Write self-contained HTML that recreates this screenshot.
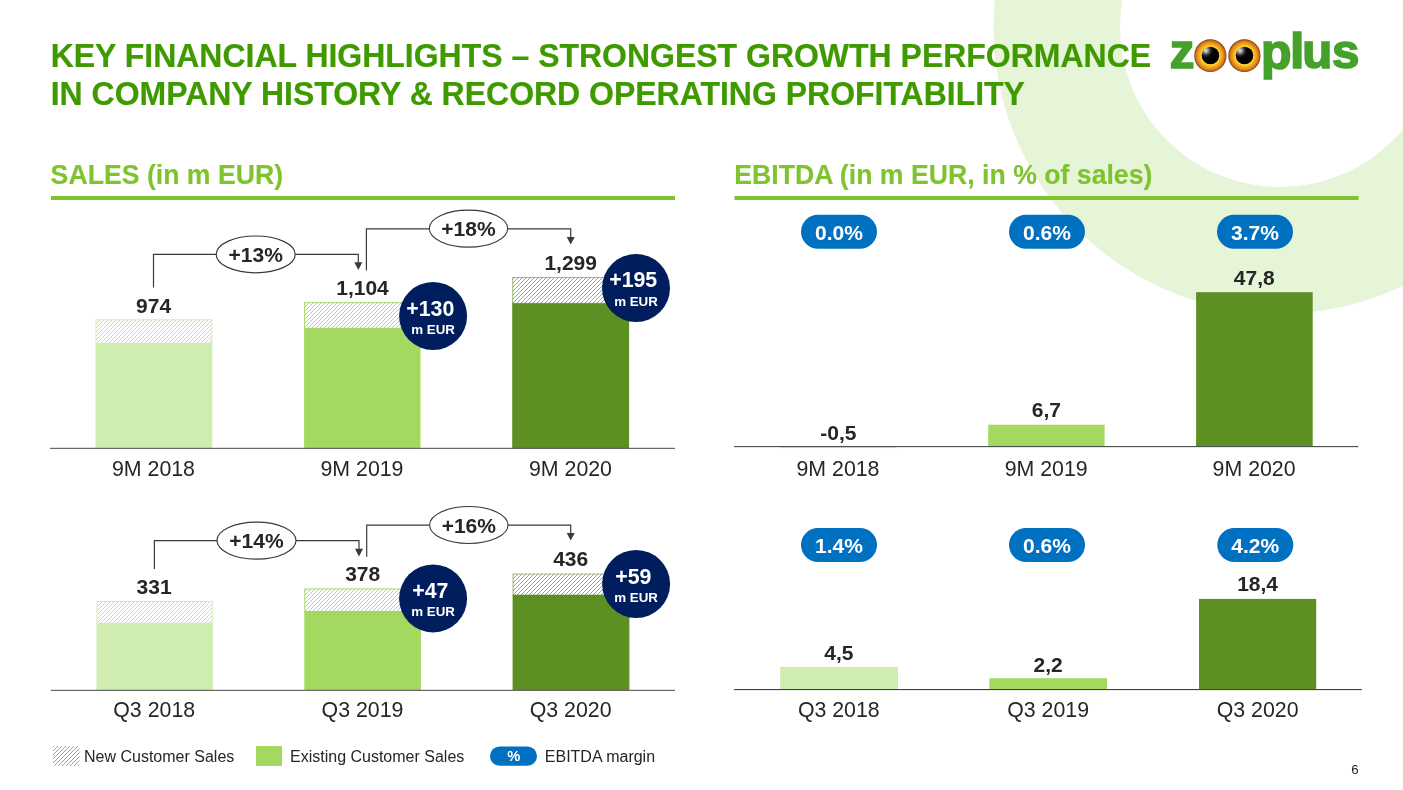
<!DOCTYPE html>
<html lang="en"><head><meta charset="utf-8"><title>Key Financial Highlights</title>
<style>
html,body{margin:0;padding:0;background:#fff;}
body{width:1403px;height:790px;overflow:hidden;position:relative;font-family:"Liberation Sans",Arial,sans-serif;}
svg{position:absolute;left:0;top:0;display:block}
text{font-family:"Liberation Sans",Arial,sans-serif;}
.t{font-weight:bold;font-size:32px;fill:#3f9a00;stroke:#3f9a00;stroke-width:.2px}
.s{font-weight:bold;font-size:26.67px;fill:#7fc42f;stroke:#7fc42f;stroke-width:.15px}
.v{font-weight:bold;font-size:21px;fill:#262626;text-anchor:middle}
.ax{font-size:21.33px;fill:#262626;text-anchor:middle}
.pl{font-weight:bold;font-size:21px;fill:#fff;text-anchor:middle}
.cb{font-weight:bold;font-size:21.33px;fill:#fff;text-anchor:middle}
.cs{font-weight:bold;font-size:13.33px;fill:#fff;text-anchor:middle}
.lg{font-size:16px;fill:#262626}
.ln{fill:none;stroke:#3a3a3a;stroke-width:1.2}
.ar{fill:#3a3a3a}
</style></head><body>
<svg width="1403" height="790" viewBox="0 0 1403 790">
<defs>

<pattern id="h1" width="4" height="4" patternUnits="userSpaceOnUse"><rect width="4" height="4" fill="#fff"/><path d="M-1 5L5 -1M-1 1L1 -1M3 5L5 3" stroke="#bfe694" stroke-width="1.0" stroke-opacity="1"/></pattern>
<pattern id="h2" width="4" height="4" patternUnits="userSpaceOnUse"><rect width="4" height="4" fill="#fff"/><path d="M-1 5L5 -1M-1 1L1 -1M3 5L5 3" stroke="#a3d95f" stroke-width="0.9" stroke-opacity="1"/></pattern>
<pattern id="h3" width="4" height="4" patternUnits="userSpaceOnUse"><rect width="4" height="4" fill="#fff"/><path d="M-1 5L5 -1M-1 1L1 -1M3 5L5 3" stroke="#5e8f22" stroke-width="0.8" stroke-opacity="0.85"/></pattern>
<radialGradient id="eye" cx="50%" cy="50%" r="50%">
<stop offset="0" stop-color="#ffe045"/><stop offset="0.55" stop-color="#ffd83a"/><stop offset="0.64" stop-color="#f9ba25"/><stop offset="0.76" stop-color="#ec9a1c"/><stop offset="0.87" stop-color="#da7e18"/><stop offset="0.94" stop-color="#b05c15"/><stop offset="1" stop-color="#6e3a14"/>
</radialGradient>
<radialGradient id="pup" cx="24%" cy="22%" r="62%">
<stop offset="0" stop-color="#f4f4f4"/><stop offset="0.2" stop-color="#9a9a9a"/><stop offset="0.45" stop-color="#2a2a2a"/><stop offset="0.62" stop-color="#080808"/><stop offset="1" stop-color="#000"/>
</radialGradient>
</defs>

<circle cx="1280" cy="27" r="223.25" fill="none" stroke="#e6f4d7" stroke-width="126.5"/>
<text class="t" transform="translate(50.7 66.9) scale(1 1.04)">KEY FINANCIAL HIGHLIGHTS – STRONGEST GROWTH PERFORMANCE</text>
<text class="t" transform="translate(50.7 105.0) scale(1 1.04)">IN COMPANY HISTORY &amp; RECORD OPERATING PROFITABILITY</text>
<text transform="translate(0 68.0) scale(0.965 0.95)" fill="#45a12b" stroke="#45a12b" stroke-width="1.8" font-weight="bold" font-size="51px" style="vector-effect:non-scaling-stroke"><tspan x="1212.23">z</tspan><tspan x="1238.67" fill="#eea01c" stroke="#eea01c">o</tspan><tspan x="1273.96" fill="#eea01c" stroke="#eea01c">o</tspan><tspan x="1306.62" font-size="51.7px" dy="0.95">p</tspan><tspan x="1336.90" font-size="53.5px" dy="-0.95">l</tspan><tspan x="1349.45">u</tspan><tspan x="1380.32">s</tspan></text>
<ellipse cx="1210.35" cy="55.7" rx="16.1" ry="16.4" fill="url(#eye)"/><circle cx="1210.4499999999998" cy="55.5" r="8.8" fill="url(#pup)"/>
<ellipse cx="1244.4" cy="55.7" rx="16.1" ry="16.4" fill="url(#eye)"/><circle cx="1244.5" cy="55.5" r="8.8" fill="url(#pup)"/>
<text class="s" transform="translate(50.6 184.1) scale(1 1.045)">SALES (in m EUR)</text>
<text class="s" transform="translate(734.2 184.1) scale(1 1.045)">EBITDA (in m EUR, in % of sales)</text>
<rect x="51" y="196" width="624" height="4" fill="#7fc42f"/>
<rect x="734.5" y="196" width="624" height="4" fill="#7fc42f"/>
<rect x="95.5" y="343" width="116.8" height="105.3" fill="#d0edb0"/>
<rect x="96.0" y="319.8" width="115.8" height="23.7" fill="url(#h1)" stroke="#d0edb0" stroke-width="1" stroke-opacity="1"/>
<rect x="304.1" y="327.8" width="116.4" height="120.5" fill="#a3d95f"/>
<rect x="304.6" y="302.7" width="115.4" height="25.6" fill="url(#h2)" stroke="#a3d95f" stroke-width="1" stroke-opacity="1"/>
<rect x="512.2" y="302.8" width="116.9" height="145.5" fill="#5e8f22"/>
<rect x="512.7" y="277.5" width="115.9" height="25.8" fill="url(#h3)" stroke="#5e8f22" stroke-width="1" stroke-opacity="0.6"/>
<rect x="50" y="447.8" width="625" height="1.1" fill="#595959"/>
<text class="v" x="153.6" y="312.6">974</text>
<text class="v" x="362.5" y="295.3">1,104</text>
<text class="v" x="570.7" y="269.6">1,299</text>
<text class="ax" x="153.5" y="476.3">9M 2018</text>
<text class="ax" x="362" y="476.3">9M 2019</text>
<text class="ax" x="570.5" y="476.3">9M 2020</text>
<path class="ln" d="M153.5 287.5V254.4H216"/><path class="ln" d="M295 254.4H358.3V263"/>
<path class="ln" d="M366.4 270.4V228.8H430"/><path class="ln" d="M507 228.8H570.7V238"/>
<path class="ar" d="M354.3 262.2H362.3L358.3 269.9Z"/>
<path class="ar" d="M566.7 236.9H574.7L570.7 244.6Z"/>
<ellipse cx="255.7" cy="254.4" rx="39.5" ry="18.4" fill="#fff" stroke="#3a3a3a" stroke-width="1.2"/>
<ellipse cx="468.5" cy="228.6" rx="39.2" ry="18.5" fill="#fff" stroke="#3a3a3a" stroke-width="1.1"/>
<text class="v" x="255.7" y="262">+13%</text>
<text class="v" x="468.5" y="236.2">+18%</text>
<circle cx="433.1" cy="316" r="34" fill="#001e5e"/>
<text class="cb" x="430.3" y="315.9">+130</text><text class="cs" x="433.1" y="334.2">m EUR</text>
<circle cx="636" cy="288" r="34" fill="#001e5e"/>
<text class="cb" x="633.2" y="287.3">+195</text><text class="cs" x="636" y="306.4">m EUR</text>
<rect x="96.5" y="622.8" width="116.3" height="67.2" fill="#d0edb0"/>
<rect x="97.0" y="601.5" width="115.3" height="21.8" fill="url(#h1)" stroke="#d0edb0" stroke-width="1" stroke-opacity="1"/>
<rect x="304.3" y="611" width="116.6" height="79.0" fill="#a3d95f"/>
<rect x="304.8" y="589.0" width="115.6" height="22.5" fill="url(#h2)" stroke="#a3d95f" stroke-width="1" stroke-opacity="1"/>
<rect x="512.6" y="594.5" width="116.8" height="95.5" fill="#5e8f22"/>
<rect x="513.1" y="574.0" width="115.8" height="21.0" fill="url(#h3)" stroke="#5e8f22" stroke-width="1" stroke-opacity="0.6"/>
<rect x="50.8" y="689.8" width="624.2" height="1.1" fill="#595959"/>
<text class="v" x="154.1" y="593.9">331</text>
<text class="v" x="362.7" y="581.3">378</text>
<text class="v" x="570.7" y="566.1">436</text>
<text class="ax" x="154.2" y="716.9">Q3 2018</text>
<text class="ax" x="362.5" y="716.9">Q3 2019</text>
<text class="ax" x="570.6" y="716.9">Q3 2020</text>
<path class="ln" d="M154.4 569V540.6H217"/><path class="ln" d="M296 540.6H359V549"/>
<path class="ln" d="M366.7 556.7V525.1H430"/><path class="ln" d="M508 525.1H570.7V533.5"/>
<path class="ar" d="M355 548.6999999999999H363L359 556.4Z"/>
<path class="ar" d="M566.7 532.9H574.7L570.7 540.6Z"/>
<ellipse cx="256.5" cy="540.6" rx="39.5" ry="18.5" fill="#fff" stroke="#3a3a3a" stroke-width="1.2"/>
<ellipse cx="468.8" cy="525" rx="39.2" ry="18.5" fill="#fff" stroke="#3a3a3a" stroke-width="1.1"/>
<text class="v" x="256.5" y="548.3">+14%</text>
<text class="v" x="468.8" y="532.6">+16%</text>
<circle cx="433.1" cy="598.4" r="34" fill="#001e5e"/>
<text class="cb" x="430.3" y="598.4">+47</text><text class="cs" x="433.1" y="615.9">m EUR</text>
<circle cx="636.1" cy="584" r="34" fill="#001e5e"/>
<text class="cb" x="633.3000000000001" y="583.6">+59</text><text class="cs" x="636.1" y="601.9">m EUR</text>
<rect x="801" y="214.7" width="76" height="34" rx="17.0" fill="#0070c0"/>
<text class="pl" x="839.0" y="239.8">0.0%</text>
<rect x="1009" y="214.7" width="76" height="34" rx="17.0" fill="#0070c0"/>
<text class="pl" x="1047.0" y="239.8">0.6%</text>
<rect x="1217" y="214.7" width="76" height="34" rx="17.0" fill="#0070c0"/>
<text class="pl" x="1255.0" y="239.8">3.7%</text>
<rect x="780.2" y="446.5" width="116.5" height="1.6" fill="#d0edb0"/>
<rect x="988.2" y="424.7" width="116.4" height="22" fill="#a3d95f"/>
<rect x="1196.1" y="292.2" width="116.6" height="154.5" fill="#5e8f22"/>
<rect x="734" y="446" width="624.4" height="1.15" fill="#505050"/>
<text class="v" x="838.4" y="439.8">-0,5</text>
<text class="v" x="1046.4" y="417.1">6,7</text>
<text class="v" x="1254.3" y="285.1">47,8</text>
<text class="ax" x="838" y="476.3">9M 2018</text>
<text class="ax" x="1046.2" y="476.3">9M 2019</text>
<text class="ax" x="1254.1" y="476.3">9M 2020</text>
<rect x="801" y="528" width="76" height="34" rx="17.0" fill="#0070c0"/>
<text class="pl" x="839.0" y="553.1">1.4%</text>
<rect x="1009" y="528" width="76" height="34" rx="17.0" fill="#0070c0"/>
<text class="pl" x="1047.0" y="553.1">0.6%</text>
<rect x="1217.3" y="528" width="76" height="34" rx="17.0" fill="#0070c0"/>
<text class="pl" x="1255.3" y="553.1">4.2%</text>
<rect x="780.2" y="666.9" width="117.8" height="22.5" fill="#d0edb0"/>
<rect x="989.4" y="678.2" width="117.6" height="11.2" fill="#a3d95f"/>
<rect x="1199" y="598.9" width="117.2" height="90.5" fill="#5e8f22"/>
<rect x="734" y="689" width="627.8" height="1.1" fill="#404040"/>
<text class="v" x="838.9" y="659.7">4,5</text>
<text class="v" x="1048.1" y="672.2">2,2</text>
<text class="v" x="1257.6" y="591.2">18,4</text>
<text class="ax" x="838.8" y="716.9">Q3 2018</text>
<text class="ax" x="1048.1" y="716.9">Q3 2019</text>
<text class="ax" x="1257.6" y="716.9">Q3 2020</text>
<rect x="53" y="746" width="26.5" height="20" fill="url(#h3)"/>
<text class="lg" x="84" y="761.6">New Customer Sales</text>
<rect x="256" y="746" width="26" height="20" fill="#a3d95f"/>
<text class="lg" x="290" y="761.6">Existing Customer Sales</text>
<rect x="490" y="746.5" width="47" height="19.3" rx="9.65" fill="#0070c0"/>
<text x="513.7" y="761.3" font-weight="bold" font-size="14.67px" fill="#fff" text-anchor="middle">%</text>
<text class="lg" x="544.8" y="761.6">EBITDA margin</text>
<text x="1351.3" y="774.3" font-size="13.33px" fill="#262626">6</text>
</svg></body></html>
